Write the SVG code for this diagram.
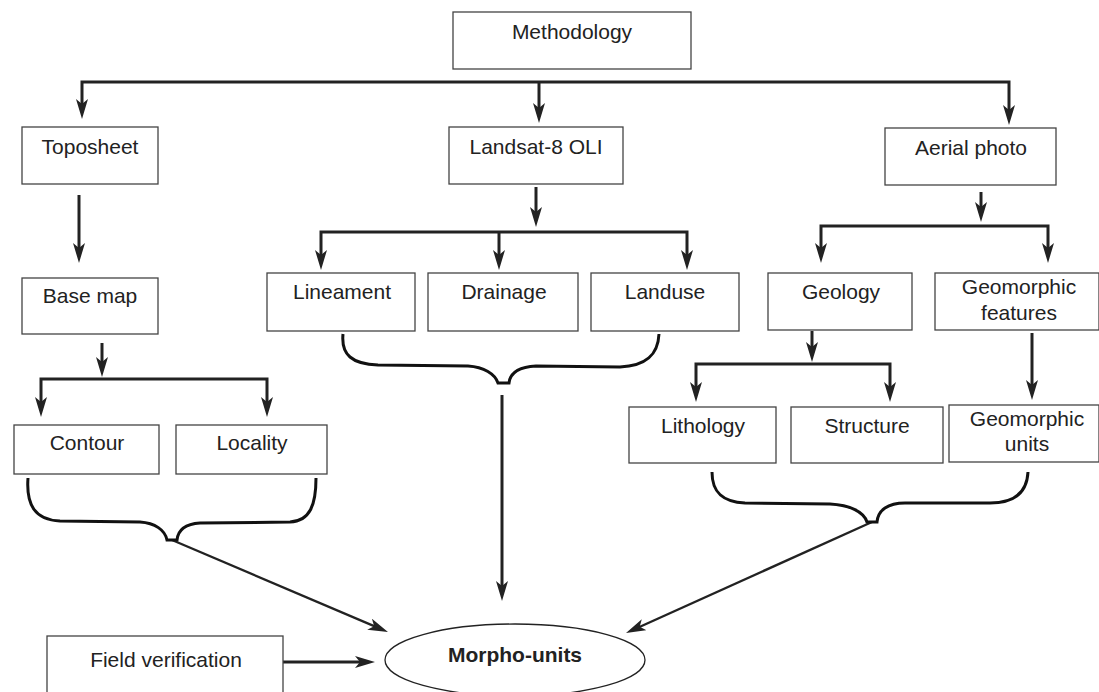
<svg xmlns="http://www.w3.org/2000/svg" width="1099" height="692" viewBox="0 0 1099 692">
<defs>
<marker id="ah" viewBox="0 0 20 12" refX="12" refY="6" markerWidth="20" markerHeight="12" markerUnits="userSpaceOnUse" orient="auto-start-reverse">
<path d="M0,0 L20,6 L0,12 L5,6 Z" fill="#222"/>
</marker>
</defs>
<style>
.box{fill:#fff;stroke:#444;stroke-width:1.3}
.t{font-family:"Liberation Sans",Arial,sans-serif;font-size:21px;fill:#222;text-anchor:middle}
.b{font-weight:bold}
.c{fill:none;stroke:#222;stroke-width:3}
.d{fill:none;stroke:#222;stroke-width:2.3}
.br{fill:none;stroke:#111;stroke-width:3}
</style>
<rect width="1099" height="692" fill="#fff"/>
<g id="connectors">
<path class="c" d="M82,111 V82 H1009 V117" marker-start="url(#ah)" marker-end="url(#ah)"/>
<path class="c" d="M539,82 V115" marker-end="url(#ah)"/>
<path class="c" d="M79,195 V255" marker-end="url(#ah)"/>
<path class="c" d="M102,343 V369" marker-end="url(#ah)"/>
<path class="c" d="M41,409 V379 H267 V409" marker-start="url(#ah)" marker-end="url(#ah)"/>
<path class="c" d="M536,187 V219" marker-end="url(#ah)"/>
<path class="c" d="M321,262 V232 H687 V262" marker-start="url(#ah)" marker-end="url(#ah)"/>
<path class="c" d="M499,232 V262" marker-end="url(#ah)"/>
<path class="c" d="M981,192 V214" marker-end="url(#ah)"/>
<path class="c" d="M821,255 V226 H1048 V255" marker-start="url(#ah)" marker-end="url(#ah)"/>
<path class="c" d="M812,331 V354" marker-end="url(#ah)"/>
<path class="c" d="M696,394 V364 H890 V394" marker-start="url(#ah)" marker-end="url(#ah)"/>
<path class="c" d="M1032,333 V392" marker-end="url(#ah)"/>
<path class="c" d="M502,395 V593" marker-end="url(#ah)"/>
<path class="c" d="M283,662 H367" marker-end="url(#ah)"/>
<path class="d" d="M172,540 L380.6,628.9" marker-end="url(#ah)"/>
<path class="d" d="M872,522 L633.3,629.7" marker-end="url(#ah)"/>
<path class="br" d="M28,478 C26,505 35,520 60,521 L140,522 C155,523 165,530 167,540 L177,540 C178,530 185,524 200,523 L290,522 C310,521 316,505 316,478"/>
<path class="br" d="M343,334 C341,355 352,364 378,365 L468,366 C484,367 495,374 498,383 L509,383 C510,374 518,367 536,366 L620,367 C646,366 658,355 659,334"/>
<path class="br" d="M712,472 C712,492 722,502 745,503 L830,504 C850,505 864,512 867,522 L877,522 C878,510 888,503 905,503 L990,503 C1015,503 1027,492 1028,472"/>
</g>
<g id="methodology"><rect class="box" x="453" y="12" width="238" height="57"/><text class="t" x="572" y="39">Methodology</text></g>
<g id="toposheet"><rect class="box" x="22" y="127" width="136" height="57"/><text class="t" x="90" y="154">Toposheet</text></g>
<g id="landsat"><rect class="box" x="449" y="127" width="174" height="57"/><text class="t" x="536" y="154">Landsat-8 OLI</text></g>
<g id="aerial"><rect class="box" x="885" y="128" width="171" height="57"/><text class="t" x="971" y="155">Aerial photo</text></g>
<g id="basemap"><rect class="box" x="22" y="278" width="136" height="56"/><text class="t" x="90" y="303">Base map</text></g>
<g id="lineament"><rect class="box" x="267" y="273" width="148" height="58"/><text class="t" x="342" y="299">Lineament</text></g>
<g id="drainage"><rect class="box" x="428" y="273" width="150" height="58"/><text class="t" x="504" y="299">Drainage</text></g>
<g id="landuse"><rect class="box" x="591" y="273" width="148" height="58"/><text class="t" x="665" y="299">Landuse</text></g>
<g id="geology"><rect class="box" x="768" y="273" width="144" height="57"/><text class="t" x="841" y="299">Geology</text></g>
<g id="geomorphic-features"><rect class="box" x="935" y="273" width="164" height="57"/><text class="t" x="1019" y="294">Geomorphic</text><text class="t" x="1019" y="320">features</text></g>
<g id="contour"><rect class="box" x="14" y="425" width="145" height="49"/><text class="t" x="87" y="450">Contour</text></g>
<g id="locality"><rect class="box" x="176" y="425" width="151" height="49"/><text class="t" x="252" y="450">Locality</text></g>
<g id="lithology"><rect class="box" x="629" y="407" width="147" height="56"/><text class="t" x="703" y="433">Lithology</text></g>
<g id="structure"><rect class="box" x="791" y="407" width="152" height="56"/><text class="t" x="867" y="433">Structure</text></g>
<g id="geomorphic-units"><rect class="box" x="949" y="405" width="150" height="57"/><text class="t" x="1027" y="426">Geomorphic</text><text class="t" x="1027" y="451">units</text></g>
<g id="field-verification"><rect class="box" x="47" y="636" width="236" height="70"/><text class="t" x="166" y="667">Field verification</text></g>
<g id="morpho-units"><ellipse cx="515" cy="660" rx="130" ry="36" fill="#fff" stroke="#222" stroke-width="1.3"/><text class="t b" x="515" y="662">Morpho-units</text></g>
</svg>
